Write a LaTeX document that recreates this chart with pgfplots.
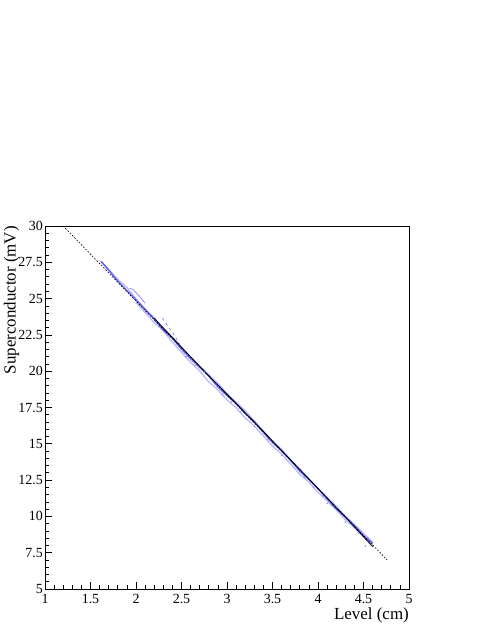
\documentclass[border=0pt]{standalone}
\usepackage{fontspec}
\setmainfont{Liberation Serif}
\usepackage{pgfplots}
\pgfplotsset{compat=1.18}

\definecolor{bluedark}{RGB}{60,60,240}
\definecolor{bluelight}{RGB}{140,140,255}

\begin{document}
\begin{tikzpicture}
\useasboundingbox (-45bp,-46bp) rectangle (446bp,589bp);
\begin{axis}[
  name=ax,
  scale only axis,
  width=364bp, height=363bp,
  xmin=1, xmax=5, ymin=5, ymax=30,
  xtick={1,1.5,2,2.5,3,3.5,4,4.5,5},
  ytick={5,7.5,10,12.5,15,17.5,20,22.5,25,27.5,30},
  minor x tick num=4, minor y tick num=4,
  xtick pos=bottom, ytick pos=left,
  tick align=inside,
  major tick length=7bp, minor tick length=3.5bp,
  axis line style={line width=0.8bp},
  every tick/.style={black, line width=0.7bp},
  /pgf/number format/assume math mode=true,
  tick label style={font=\fontsize{14}{16}\selectfont, inner sep=0pt},
  xticklabel style={anchor=north},
  x tick label style={yshift=-5bp},
  yticklabel style={anchor=east},
  y tick label style={xshift=-2bp},
  yticklabel={\pgfmathprintnumber[fixed]{\tick}},
]
% light blue outer tracks
\addplot[bluelight, line width=1.3bp, opacity=0.6] coordinates {
  (1.6,27.62)(1.7,27.02)(1.8,26.32)(1.9,25.78)(2.0,24.98)(2.1,24.29)
  (2.2,23.66)(2.3,22.94)(2.4,22.35)(2.5,21.65)(2.6,20.96)(2.7,20.36)
  (2.8,19.76)(2.9,19.17)(3.0,18.47)(3.1,17.88)(3.2,17.28)(3.3,16.58)
  (3.4,15.89)(3.5,15.19)(3.6,14.60)(3.7,13.90)(3.8,13.28)(3.9,12.61)
  (4.0,11.91)(4.1,11.32)(4.2,10.72)(4.3,10.02)(4.4,9.43)(4.5,8.83)(4.6,8.24)
};
\addplot[bluelight, line width=1.3bp, opacity=0.6] coordinates {
  (2.0,24.73)(2.1,24.04)(2.2,23.34)(2.3,22.79)(2.4,22.00)(2.5,21.30)
  (2.6,20.61)(2.7,20.01)(2.8,19.26)(2.9,18.72)(3.0,18.02)(3.1,17.48)
  (3.2,16.78)(3.3,16.23)(3.4,15.54)(3.5,14.84)(3.6,14.30)(3.7,13.60)
  (3.8,12.90)(3.9,12.36)(4.0,11.66)(4.1,11.07)(4.2,10.47)(4.3,9.77)
  (4.4,9.23)(4.5,8.63)(4.6,8.04)
};
% short offset segments
\addplot[bluelight, line width=0.8bp] coordinates {
  (1.93,25.72)(1.97,25.62)(2.0,25.42)(2.05,25.08)(2.1,24.68)
};
\addplot[bluelight, line width=0.8bp, dashed] coordinates {
  (2.29,23.66)(2.35,23.1)(2.42,22.5)(2.48,21.85)
};
% main track
\addplot[bluedark, line width=1.5bp, opacity=0.75] coordinates {
  (1.62,27.55)(1.8,26.2)(2.0,24.9)
  (2.2,23.59)(2.3,22.84)(2.4,22.27)(2.5,21.52)(2.6,20.86)(2.7,20.26)
  (2.8,19.66)(2.9,18.92)(3.0,18.32)(3.1,17.78)(3.2,17.08)(3.3,16.51)
  (3.4,15.79)(3.5,15.09)(3.6,14.52)(3.7,13.85)(3.8,13.12)(3.9,12.54)
  (4.0,11.91)(4.1,11.22)(4.2,10.52)(4.3,9.97)(4.4,9.38)(4.5,8.68)(4.6,8.14)
};
% scattered points
\addplot[only marks, mark=*, mark size=0.6pt, bluelight, opacity=0.8] coordinates {
  (2.75,19.95)(3.05,17.9)(3.3,16.2)(3.85,12.7)(4.15,10.75)(4.45,8.85)
  (4.55,8.5)(3.6,14.2)(2.95,18.4)(4.3,9.6)(3.15,17.2)(2.65,20.4)
  (4.05,11.4)(4.52,7.95)(3.45,15.3)(4.1,10.9)(3.95,12.0)(2.55,21.0)
};
% linear fit, dashed
\addplot[black, line width=0.6bp, dash pattern=on 1.6bp off 1.6bp] coordinates {
  (1.2,30)(4.76,7.0)
};
% calibration curve
\addplot[black, line width=0.8bp] coordinates {
  (2.2,23.65)(2.5,21.65)(2.8,19.68)(3.1,17.78)(3.4,15.85)
  (3.7,13.88)(4.0,11.92)(4.3,9.95)(4.6,7.92)
};
\end{axis}
\node[rotate=90, anchor=base east, inner sep=0pt, font=\fontsize{17}{19}\selectfont]
  at ([xshift=-29.5bp]ax.north west) {Superconductor (mV)};
\node[anchor=base east, inner sep=0pt, font=\fontsize{17}{19}\selectfont]
  at ([yshift=-30bp]ax.south east) {Level (cm)};
\end{tikzpicture}
\end{document}
